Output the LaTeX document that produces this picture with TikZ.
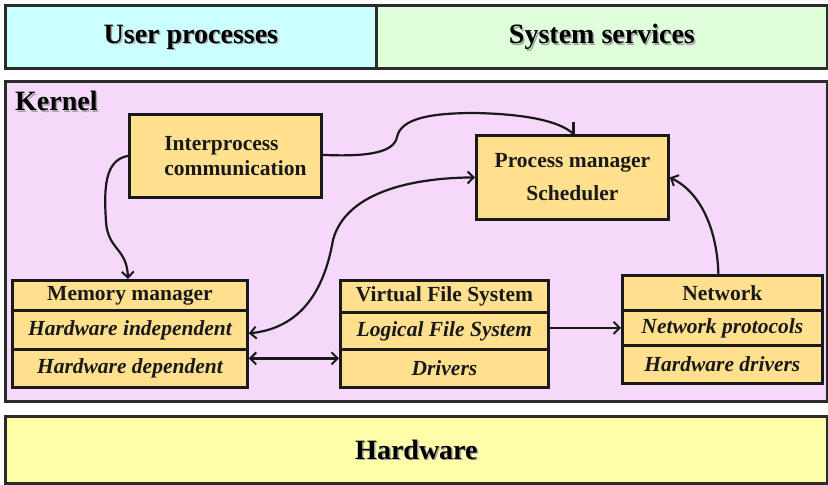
\documentclass[tikz,border=0pt]{standalone}
\usepackage{fontspec}
\setmainfont{Liberation Serif}
\usetikzlibrary{arrows.meta,calc}
\definecolor{usercol}{HTML}{CCFFFF}
\definecolor{syscol}{HTML}{DEFFDA}
\definecolor{kernelcol}{HTML}{F5D8FA}
\definecolor{hwcol}{HTML}{FFFFAA}
\definecolor{boxcol}{HTML}{FFE08F}
\definecolor{framecol}{HTML}{2B2B2B}
\begin{document}
\begin{tikzpicture}[x=1pt,y=-1pt,
  region/.style={draw=framecol, line width=2.8pt, inner sep=0pt, anchor=north west},
  bigtext/.style={font=\fontsize{28}{30}\selectfont\bfseries, text=black, inner sep=0pt},
  shadowtext/.style={bigtext, text=black!35},
  box/.style={draw=black!90, line width=2.8pt, fill=boxcol, inner sep=0pt, anchor=north west,
    font=\fontsize{21.5}{23}\selectfont\bfseries, text=black!90},
  itbox/.style={box, font=\fontsize{21.5}{23}\selectfont\bfseries\itshape},
  link/.style={line width=2.2pt, draw=black!90},
  tip/.style={-{Straight Barb[length=6pt,width=12pt,line width=2pt]}},
  bitip/.style={{Straight Barb[length=6pt,width=12pt,line width=2pt]}-{Straight Barb[length=6pt,width=12pt,line width=2pt]}}
]
\useasboundingbox[fill=white] (0,0) rectangle (828,485);

% outer layers
\node[region, fill=usercol, minimum width=371pt, minimum height=63pt] (user) at (4,4) {};
\node[region, fill=syscol, minimum width=451pt, minimum height=63pt] (sys) at (375,4) {};
\node[region, fill=kernelcol, minimum width=822pt, minimum height=320pt] (kernel) at (4,80) {};
\node[region, fill=hwcol, minimum width=822pt, minimum height=67pt] (hw) at (4,415) {};

\node[shadowtext] at ([shift={(1.5pt,-1.5pt)}]user.center) {User processes};
\node[bigtext] (usert) at (user.center) {User processes};
\node[shadowtext] at ([shift={(1.5pt,-1.5pt)}]sys.center) {System services};
\node[bigtext] (syst) at (sys.center) {System services};
\node[shadowtext] at ([shift={(1.5pt,-1.5pt)}]hw.center) {Hardware};
\node[bigtext] (hwt) at (hw.center) {Hardware};
\node[shadowtext, anchor=west] at (16.5,102.5) {Kernel};
\node[bigtext, anchor=west] (kernelt) at (15,101) {Kernel};

% kernel components
\node[box, minimum width=192pt, minimum height=83pt] (ipc) at (128,113) {};
\node[font=\fontsize{21.5}{25}\selectfont\bfseries, align=left, text=black!90] (ipct)
  at ([xshift=10pt]ipc.center) {Interprocess\\communication};

\node[box, minimum width=192pt, minimum height=84pt, align=center] (pm) at (475,134)
  {Process manager\\[10pt]Scheduler};

\node[box, minimum width=235pt, minimum height=30pt] (mmh) at (11,279) {Memory manager};
\node[itbox, minimum width=235pt, minimum height=39pt] (mmi) at (11,309) {Hardware independent};
\node[itbox, minimum width=235pt, minimum height=38pt] (mmd) at (11,348) {Hardware dependent};

\node[box, minimum width=208pt, minimum height=32pt] (vfsh) at (339,279) {Virtual File System};
\node[itbox, minimum width=208pt, minimum height=37pt] (vfsl) at (339,311) {Logical File System};
\node[itbox, minimum width=208pt, minimum height=38pt] (vfsd) at (339,348) {Drivers};

\node[box, minimum width=200pt, minimum height=35pt] (neth) at (621,274) {Network};
\node[itbox, minimum width=200pt, minimum height=35pt] (netp) at (621,309) {Network protocols};
\node[itbox, minimum width=200pt, minimum height=38pt] (netd) at (621,344) {Hardware drivers};

% connectors
\draw[link, tip] (ipc.west) .. controls (104,160) and (104,190) .. (106,222)
  .. controls (108,250) and (127,248) .. ([xshift=117pt]mmh.north west);

\coordinate (pmtop) at ([xshift=1pt]pm.north);
\draw[link] ([yshift=1pt]ipc.east) .. controls (370,157) and (394,152) .. (397,137)
  .. controls (401,118) and (432,113) .. (475,113)
  .. controls (525,114) and (560,121) .. (pmtop);
\draw[link] (pmtop) -- ++(0,-12);

\draw[link, bitip] (pm.west) .. controls (405,178) and (345,195) .. (333,240)
  .. controls (324,292) and (300,328) .. ([yshift=-3.5pt]mmi.east);

\draw[link, bitip] ([yshift=10pt]mmd.east) -- ([yshift=10pt]vfsd.west);

\draw[link, tip] (vfsl.east |- netp.west) -- (netp.west);

\draw[link, tip] ([xshift=-4pt]neth.north) .. controls (717,228) and (700,192) .. (pm.east);
\end{tikzpicture}
\end{document}
